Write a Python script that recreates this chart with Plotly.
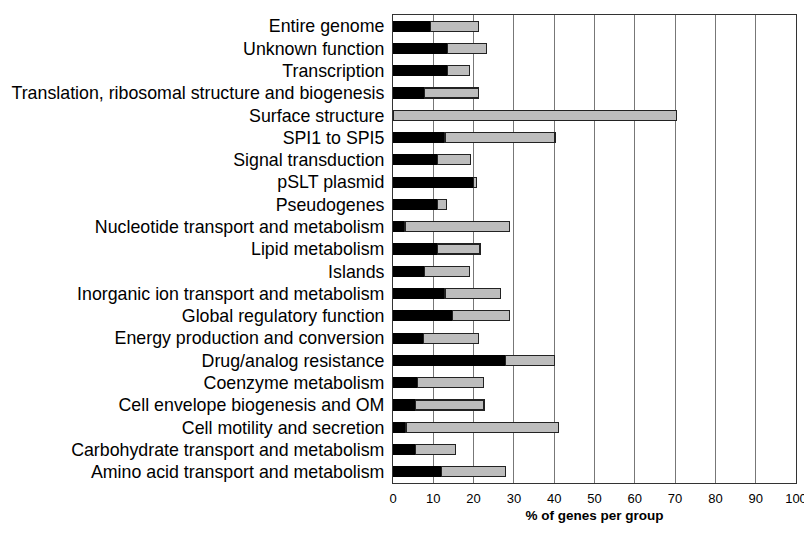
import plotly.graph_objects as go

categories = [
    "Entire genome", "Unknown function", "Transcription",
    "Translation, ribosomal structure and biogenesis", "Surface structure",
    "SPI1 to SPI5", "Signal transduction", "pSLT plasmid", "Pseudogenes",
    "Nucleotide transport and metabolism", "Lipid metabolism", "Islands",
    "Inorganic ion transport and metabolism", "Global regulatory function",
    "Energy production and conversion", "Drug/analog resistance",
    "Coenzyme metabolism", "Cell envelope biogenesis and OM",
    "Cell motility and secretion", "Carbohydrate transport and metabolism",
    "Amino acid transport and metabolism",
]
black_vals = [9.3, 13.5, 13.5, 7.9, 0.0, 12.9, 11.1, 19.9, 11.1, 3.0, 11.1,
              7.9, 12.9, 14.7, 7.5, 28.0, 6.0, 5.5, 3.2, 5.5, 12.1]
total_vals = [21.2, 23.2, 18.9, 21.2, 70.4, 40.2, 19.3, 20.8, 13.3, 28.9, 21.6,
              18.9, 26.6, 29.0, 21.2, 40.0, 22.4, 22.6, 41.0, 15.6, 28.0]
gray_vals = [round(t - b, 1) for t, b in zip(total_vals, black_vals)]
x_ticks = list(range(0, 101, 10))

fig = go.Figure()
fig.add_trace(go.Bar(y=categories, x=black_vals, orientation="h",
                     marker=dict(color="black", line=dict(color="black", width=1))))
fig.add_trace(go.Bar(y=categories, x=gray_vals, orientation="h",
                     marker=dict(color="#bdbdbd", line=dict(color="#222222", width=1.2))))

fig.update_layout(
    barmode="stack", bargap=0.55, showlegend=False,
    width=804, height=526,
    margin=dict(l=385, r=16, t=7, b=51, autoexpand=False),
    paper_bgcolor="white", plot_bgcolor="white",
    font=dict(family="Liberation Sans, Arial, sans-serif", color="black"),
)
fig.update_xaxes(range=[0, 100], tickvals=x_ticks, showgrid=True,
                 gridcolor="#777777", gridwidth=1, showline=True, linecolor="#333333",
                 mirror=True, ticks="", tickfont=dict(size=13), ticklabelstandoff=3,
                 title=dict(text="<b>% of genes per group</b>", font=dict(size=13.5), standoff=5),
                 zeroline=False)
fig.update_yaxes(autorange="reversed", showline=True, linecolor="#333333", mirror=True,
                 ticks="", tickfont=dict(size=17.8), ticklabelstandoff=4)

fig.write_html("out.html")
